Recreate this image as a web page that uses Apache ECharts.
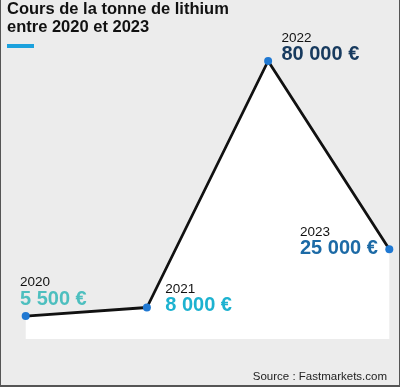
<!DOCTYPE html>
<html>
<head>
<meta charset="utf-8">
<script src="https://cdn.jsdelivr.net/npm/echarts@6/dist/echarts.min.js"></script>
<style>
html,body{margin:0;padding:0;background:#ececec;}
#c{width:400px;height:387px;}
</style>
</head>
<body>
<div id="c"></div>
<script>
const years = ['2020', '2021', '2022', '2023'];
const prices = [5500, 8000, 80000, 25000];
const labelColors = ['#4dbfbf', '#1db2d0', '#173a5e', '#1c6aa6'];
const labelOffsets = [[-1.7, -37.3], [22.3, -22.6], [17.3, -26.7], [-85.3, -21.3]];

function fmt(v) {
  return String(v).replace(/\B(?=(\d{3})+(?!\d))/g, ' ') + ' €';
}

const chart = echarts.init(document.getElementById('c'), null, {renderer: 'canvas'});

const data = prices.map((v, i) => ({
  value: v,
  label: {
    show: true,
    position: labelOffsets[i],
    align: 'left',
    verticalAlign: 'top',
    formatter: '{y|' + years[i] + '}\n{v|' + fmt(v) + '}',
    rich: {
      y: {fontSize: 13.5, lineHeight: 16, color: '#111', fontFamily: 'Liberation Sans, Arial, sans-serif', align: 'left'},
      v: {fontSize: 20, lineHeight: 17, fontWeight: 'bold', color: labelColors[i], fontFamily: 'Liberation Sans, Arial, sans-serif', align: 'left'}
    }
  }
}));

chart.setOption({
  backgroundColor: '#ececec',
  animation: false,
  title: {
    text: 'Cours de la tonne de lithium\nentre 2020 et 2023',
    left: 7, top: 1, padding: 0,
    textStyle: {fontSize: 16.5, fontWeight: 'bold', color: '#111', lineHeight: 17.5, fontFamily: 'Liberation Sans, Arial, sans-serif'}
  },
  grid: {left: 25.7, right: 10.7, top: 61, bottom: 48},
  xAxis: {
    type: 'category', data: years, boundaryGap: false,
    show: false
  },
  yAxis: {
    type: 'value', min: -1200, max: 80000, show: false
  },
  series: [{
    type: 'line',
    data: data,
    symbol: 'circle',
    symbolSize: 8,
    itemStyle: {color: '#1f78d2'},
    lineStyle: {color: '#111', width: 2.8},
    areaStyle: {color: '#ffffff', opacity: 1, origin: 'start'},
    z: 3
  }],
  graphic: [
    {type: 'rect', shape: {x: 7, y: 44, width: 27, height: 4}, style: {fill: '#1ba1dd'}},
    {type: 'text', style: {x: 387, y: 377, text: 'Source : Fastmarkets.com', align: 'right', verticalAlign: 'middle', fontSize: 11.5, fill: '#222', fontFamily: 'Liberation Sans, Arial, sans-serif'}},
    {type: 'rect', shape: {x: 0, y: 0, width: 1, height: 387}, style: {fill: '#555'}},
    {type: 'rect', shape: {x: 399, y: 0, width: 1, height: 387}, style: {fill: '#555'}},
    {type: 'rect', shape: {x: 0, y: 385, width: 400, height: 2}, style: {fill: '#555'}}
  ]
});
</script>
</body>
</html>
